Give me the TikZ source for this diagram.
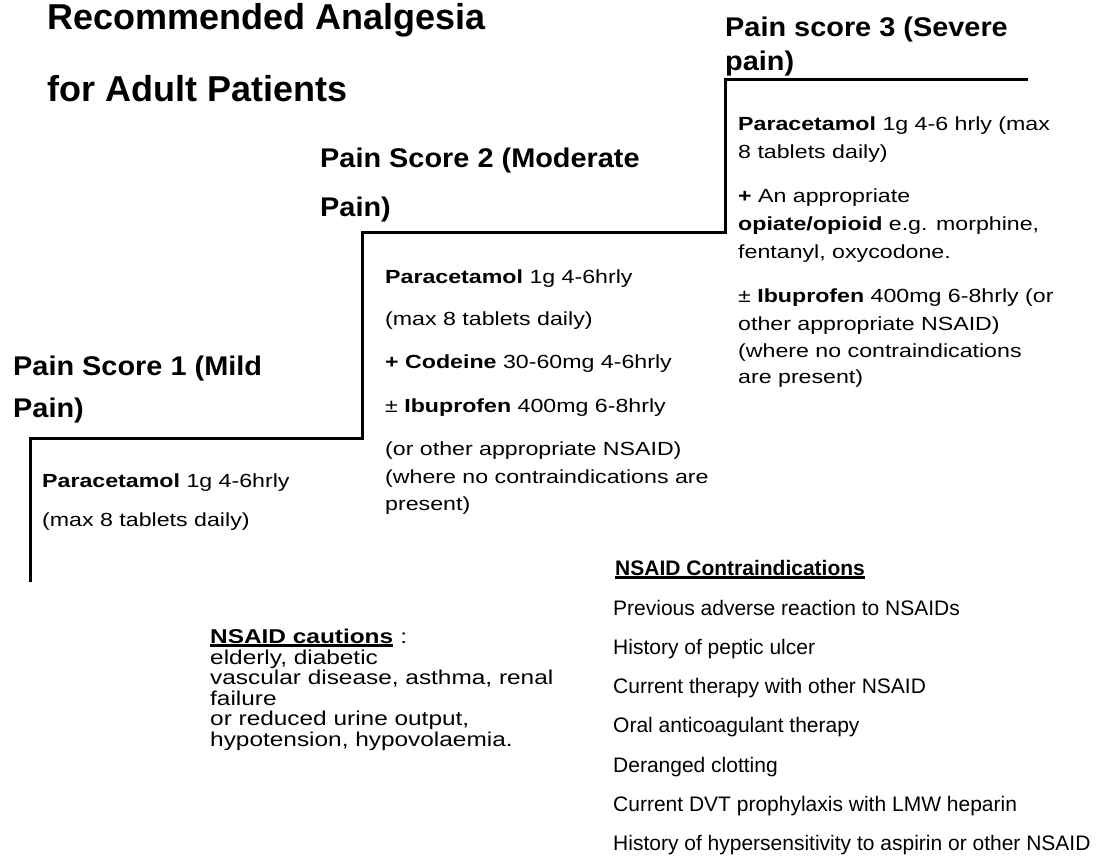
\documentclass[tikz,border=0pt]{standalone}
\usepackage{fontspec}
\setmainfont{Liberation Sans}
\newfontfamily\headfont{Liberation Sans}[FakeStretch=1.07]
\newfontfamily\widefont{Liberation Sans}[FakeStretch=1.22]
\usepackage{tikz}

\begin{document}
\begin{tikzpicture}[x=1pt,y=-1pt,
  stair/.style={line width=3pt},
  uline/.style={line width=2.6pt},
  title/.style={anchor=base west,inner sep=0pt,font=\fontsize{36}{40}\selectfont\bfseries},
  head/.style={anchor=base west,inner sep=0pt,font=\headfont\fontsize{27}{30}\selectfont\bfseries},
  body/.style={anchor=base west,inner sep=0pt,font=\widefont\fontsize{19}{22}\selectfont},
  caution/.style={anchor=base west,inner sep=0pt,font=\widefont\fontsize{20}{22}\selectfont},
  contra/.style={anchor=base west,inner sep=0pt,font=\fontsize{21}{24}\selectfont}]
\useasboundingbox (0,0) rectangle (1117,855);

% Title
\node[title] (title1) at (47,29) {Recommended Analgesia};
\node[title] (title2) at (47,101) {for Adult Patients};

% Staircase
\draw[stair] (30,582) -- (30,438) -- (362,438) -- (362,232) -- (725,232) -- (725,79) -- (1028,79);

% Step 1 - Mild pain
\node[head] (head1a) at (13,375) {Pain Score 1 (Mild};
\node[head] (head1b) at (13,417) {Pain)};
\node[body] (drug1a) at (42,487) {\textbf{Paracetamol} 1g 4-6hrly};
\node[body] (drug1b) at (42,526) {(max 8 tablets daily)};

% Step 2 - Moderate pain
\node[head] (head2a) at (320,167) {Pain Score 2 (Moderate};
\node[head] (head2b) at (320,216) {Pain)};
\node[body] (drug2a) at (385,283) {\textbf{Paracetamol} 1g 4-6hrly};
\node[body] (drug2b) at (385,325) {(max 8 tablets daily)};
\node[body] (drug2c) at (385,368) {\textbf{+ Codeine} 30-60mg 4-6hrly};
\node[body] (drug2d) at (385,412) {± \textbf{Ibuprofen} 400mg 6-8hrly};
\node[body] (drug2e) at (385,455) {(or other appropriate NSAID)};
\node[body] (drug2f) at (385,483) {(where no contraindications are};
\node[body] (drug2g) at (385,510) {present)};

% Step 3 - Severe pain
\node[head] (head3a) at (725,36) {Pain score 3 (Severe};
\node[head] (head3b) at (725,70) {pain)};
\node[body] (drug3a) at (738,130) {\textbf{Paracetamol} 1g 4-6 hrly (max};
\node[body] (drug3b) at (738,158) {8 tablets daily)};
\node[body] (drug3c) at (738,202) {\textbf{+} An appropriate};
\node[body] (drug3d) at (738,230) {\textbf{opiate/opioid} e.g. morphine,};
\node[body] (drug3e) at (738,258) {fentanyl, oxycodone.};
\node[body] (drug3f) at (738,302) {± \textbf{Ibuprofen} 400mg 6-8hrly (or};
\node[body] (drug3g) at (738,330) {other appropriate NSAID)};
\node[body] (drug3h) at (738,357) {(where no contraindications};
\node[body] (drug3i) at (738,383) {are present)};

% Cautions
\node[caution] (cauthead) at (210,643) {\textbf{NSAID cautions}};
\node[caution] (cautcolon) at (cauthead.base east) {\ :};
\draw[uline] ([yshift=-2.7pt]cauthead.base west) -- ([yshift=-2.7pt]cauthead.base east);
\node[caution] (caut2) at (210,664) {elderly, diabetic};
\node[caution] (caut3) at (210,684) {vascular disease, asthma, renal};
\node[caution] (caut4) at (210,705) {failure};
\node[caution] (caut5) at (210,725) {or reduced urine output,};
\node[caution] (caut6) at (210,746) {hypotension, hypovolaemia.};

% Contraindications
\node[contra] (contrahead) at (615,575) {\textbf{NSAID Contraindications}};
\draw[uline] ([yshift=-2.7pt]contrahead.base west) -- ([yshift=-2.7pt]contrahead.base east);
\foreach \txt [count=\i] in {Previous adverse reaction to NSAIDs,
    History of peptic ulcer,
    Current therapy with other NSAID,
    Oral anticoagulant therapy,
    Deranged clotting,
    Current DVT prophylaxis with LMW heparin,
    History of hypersensitivity to aspirin or other NSAID}
  \node[contra] (contra\i) at (613,{575.7+39.3*\i}) {\txt};
\end{tikzpicture}
\end{document}
